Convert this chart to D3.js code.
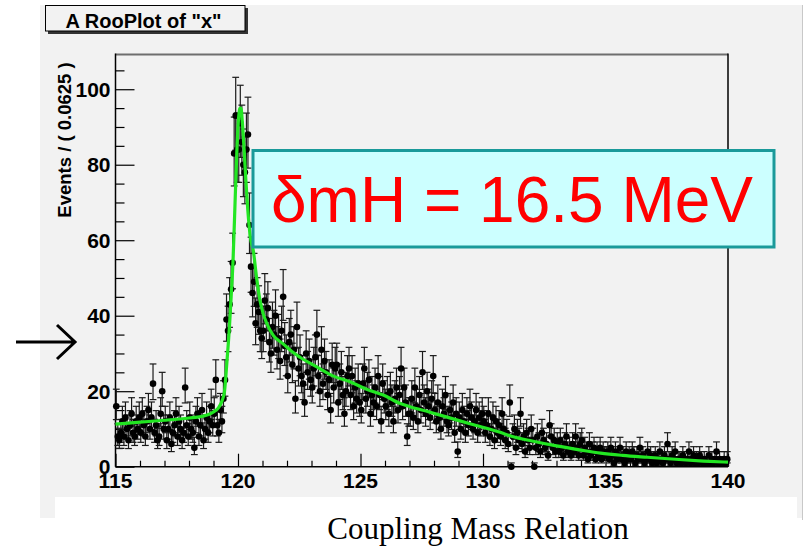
<!DOCTYPE html>
<html>
<head>
<meta charset="utf-8">
<script src="https://cdn.jsdelivr.net/npm/d3@7"></script>
<style>
html,body{margin:0;padding:0;background:#fff;}
svg{display:block;}
</style>
</head>
<body>
<svg id="chart" width="804" height="550"></svg>
<script>
// ---- data ----
const title = 'A RooPlot of "x"';
const yLabel = "Events / ( 0.0625 )";
const xLabel = "x";
const caption = "Coupling Mass Relation";
const annotation = "\u03b4mH = 16.5 MeV";
const xTicks = [115, 120, 125, 130, 135, 140];
const yTicks = [0, 20, 40, 60, 80, 100];
const binStart = 115;
const binWidth = 0.0625;
// counts per bin, one row per unit of x (16 bins each)
const counts = [
  16, 8, 7, 9, 12, 8, 13, 10, 7, 11, 14, 9, 8, 12, 10, 13,        // 115
  9, 14, 11, 8, 12, 15, 10, 13, 22, 9, 11, 7, 8, 14, 20, 10,      // 116
  12, 7, 10, 13, 6, 9, 11, 14, 8, 12, 10, 7, 9, 21, 11, 8,        // 117
  13, 10, 9, 5, 12, 14, 8, 11, 15, 7, 10, 13, 9, 12, 16, 11,      // 118
  14, 23, 11, 9, 15, 12, 18, 23, 39, 36, 43, 47, 54, 83, 93, 84,  // 119
  84, 91, 86, 80, 78, 84, 88, 64, 53, 46, 49, 38, 43, 41, 36, 34, // 120
  36, 44, 39, 42, 33, 30, 37, 35, 40, 31, 34, 28, 36, 45, 32, 29, // 121
  24, 33, 35, 27, 31, 18, 37, 26, 29, 24, 22, 17, 30, 25, 28, 23, // 122
  21, 26, 29, 35, 24, 20, 31, 22, 28, 25, 19, 23, 15, 27, 21, 26, // 123
  27, 17, 22, 25, 19, 14, 20, 24, 26, 19, 24, 16, 21, 18, 22, 17, // 124
  15, 22, 26, 18, 20, 23, 14, 19, 17, 21, 16, 24, 19, 12, 22, 18, // 125
  16, 19, 14, 20, 17, 12, 18, 21, 15, 19, 26, 16, 21, 17, 8, 14,  // 126
  14, 18, 13, 21, 16, 12, 19, 15, 25, 17, 14, 20, 16, 13, 18, 24, // 127
  15, 12, 17, 13, 10, 16, 14, 19, 12, 11, 15, 13, 17, 9, 14, 4,   // 128
  13, 10, 15, 12, 9, 14, 11, 16, 13, 10, 12, 15, 9, 13, 11, 14,   // 129
  12, 9, 11, 14, 8, 10, 13, 7, 12, 9, 11, 8, 14, 10, 7, 9,        // 130
  6, 17, 0, 8, 10, 5, 9, 7, 14, 6, 8, 4, 9, 7, 5, 10,             // 131
  7, 0, 5, 8, 6, 4, 9, 7, 5, 6, 3, 11, 8, 5, 7, 4,                // 132
  6, 4, 7, 5, 3, 6, 8, 4, 5, 3, 6, 4, 8, 5, 3, 6,                 // 133
  7, 3, 5, 4, 2, 6, 3, 4, 5, 2, 4, 3, 5, 2, 4, 3,                 // 134
  3, 4, 2, 5, 3, 1, 4, 2, 3, 5, 2, 3, 1, 4, 2, 3,                 // 135
  2, 4, 3, 1, 3, 2, 5, 2, 3, 1, 2, 4, 2, 3, 1, 2,                 // 136
  3, 1, 2, 4, 2, 1, 3, 2, 6, 2, 1, 3, 2, 4, 1, 2,                 // 137
  2, 1, 3, 2, 1, 2, 4, 1, 2, 3, 1, 2, 1, 3, 2, 1,                 // 138
  2, 1, 1, 3, 1, 2, 1, 2, 4, 1, 2, 1, 1, 2, 1, 2                  // 139
];
// fitted curve
const curveX = [115, 116, 117, 118, 118.5, 119, 119.2, 119.35, 119.45, 119.55, 119.65, 119.72, 119.8, 119.88, 119.95, 120.02, 120.08, 120.12, 120.18, 120.25, 120.32, 120.4, 120.5, 120.63, 120.76, 120.9, 121.03, 121.17, 121.44, 121.85, 122.2, 122.53, 123.2, 123.9, 124.57, 125.25, 125.93, 126.6, 127.02, 127.8, 128.5, 129.5, 130.7, 131.2, 132, 133, 134, 134.8, 135.7, 136.7, 138, 139, 140];
const curveY = [11.3, 11.8, 12.3, 12.9, 13.3, 14.5, 15.6, 17.5, 20, 28, 37, 45, 55, 70, 83, 92, 95, 95, 91, 84, 76, 68, 61, 57, 50, 44, 40.5, 38, 34.8, 32.5, 30.5, 29, 26.5, 24, 22.5, 20.5, 19, 16.8, 15.9, 14.5, 13.2, 11.3, 9.1, 8.0, 6.8, 5.5, 4.4, 3.6, 3.0, 2.5, 1.9, 1.5, 1.2];

// ---- layout ----
const svg = d3.select("#chart");
const frame = {left: 115.5, right: 728, top: 54.5, bottom: 466.7};
const x = d3.scaleLinear().domain([115, 140]).range([frame.left, frame.right]);
const y = d3.scaleLinear().domain([0, 109.2]).range([frame.bottom, frame.top]);
const bold = "'Liberation Sans', Arial, Helvetica, sans-serif";

// canvas
svg.append("rect").attr("x", 40).attr("y", 5).attr("width", 763).attr("height", 513).attr("fill", "#f2f2f2");
svg.append("line").attr("x1", 802.5).attr("x2", 802.5).attr("y1", 5).attr("y2", 520).attr("stroke", "#c8c8c8").attr("stroke-width", 1);

// title box
svg.append("rect").attr("x", 48).attr("y", 8).attr("width", 200).attr("height", 26).attr("fill", "#333");
svg.append("rect").attr("x", 45.5).attr("y", 5.5).attr("width", 199.5).attr("height", 25.5).attr("fill", "#f2f2f2").attr("stroke", "#000").attr("stroke-width", 1);
svg.append("text").attr("x", 143.5).attr("y", 27.5).attr("text-anchor", "middle")
  .attr("font-family", bold).attr("font-weight", "bold").attr("font-size", 20).attr("fill", "#000").text(title);

// frame
svg.append("line").attr("x1", frame.left).attr("x2", frame.right).attr("y1", frame.top).attr("y2", frame.top).attr("stroke", "#6e6e6e").attr("stroke-width", 2);
svg.append("line").attr("x1", frame.right).attr("x2", frame.right).attr("y1", frame.top - 1).attr("y2", frame.bottom).attr("stroke", "#000").attr("stroke-width", 1.5);

// axes
const yAxis = d3.axisLeft(y).tickValues(d3.range(0, 110, 5)).tickSize(0).tickFormat("");
const gy = svg.append("g").attr("transform", `translate(${frame.left},0)`).call(yAxis);
gy.select(".domain").remove();
gy.selectAll(".tick line").remove();
gy.selectAll(".tick").append("line")
  .attr("x1", 0).attr("x2", d => (d % 20 === 0 ? 19 : 9)).attr("stroke", "#000").attr("stroke-width", 1.2);
gy.append("line").attr("x1", 0).attr("x2", 0).attr("y1", frame.top - 1).attr("y2", frame.bottom).attr("stroke", "#000").attr("stroke-width", 1.5);
gy.selectAll(".ylab").data(yTicks).enter().append("text")
  .attr("x", -5).attr("y", d => y(d)).attr("dy", "0.36em").attr("text-anchor", "end")
  .attr("font-family", bold).attr("font-weight", "bold").attr("font-size", 21).attr("fill", "#000").text(d => d);

const xAxis = d3.axisBottom(x).tickValues(d3.range(115, 140.01, 1)).tickSize(0).tickFormat("");
const gx = svg.append("g").attr("transform", `translate(0,${frame.bottom})`).call(xAxis);
gx.select(".domain").remove();
gx.selectAll(".tick line").remove();
gx.selectAll(".tick").append("line")
  .attr("y1", 0).attr("y2", d => (d % 5 === 0 ? -13 : -6)).attr("stroke", "#000").attr("stroke-width", 1.2);
gx.append("line").attr("x1", frame.left).attr("x2", frame.right).attr("y1", 0).attr("y2", 0).attr("stroke", "#000").attr("stroke-width", 1.5);
gx.selectAll(".xlab").data(xTicks).enter().append("text")
  .attr("x", d => x(d)).attr("y", 21).attr("text-anchor", "middle")
  .attr("font-family", bold).attr("font-weight", "bold").attr("font-size", 21).attr("fill", "#000").text(d => d);
svg.append("text").attr("x", 722).attr("y", 510).attr("text-anchor", "middle")
  .attr("font-family", bold).attr("font-weight", "bold").attr("font-size", 21).text(xLabel);

// y label
svg.append("text").attr("transform", `translate(71,${(63 + 217) / 2}) rotate(-90)`)
  .attr("text-anchor", "middle").attr("font-family", bold).attr("font-weight", "bold").attr("font-size", 18.5).text(yLabel);

// data
const data = counts.map((n, i) => ({x: binStart + binWidth * (i + 0.5), n}));
const gd = svg.append("g");
const capW = 3.4;
data.forEach(d => {
  const lo = Math.max(0, d.n + 0.5 - Math.sqrt(d.n + 0.25));
  const hi = d.n + 0.5 + Math.sqrt(d.n + 0.25);
  const cx = x(d.x);
  gd.append("line").attr("x1", cx).attr("x2", cx).attr("y1", y(lo)).attr("y2", y(hi)).attr("stroke", "#1a1a1a").attr("stroke-width", 1.2);
  gd.append("line").attr("x1", cx - capW).attr("x2", cx + capW).attr("y1", y(hi)).attr("y2", y(hi)).attr("stroke", "#1a1a1a").attr("stroke-width", 1.2);
  gd.append("line").attr("x1", cx - capW).attr("x2", cx + capW).attr("y1", y(lo)).attr("y2", y(lo)).attr("stroke", "#1a1a1a").attr("stroke-width", 1.2);
});
gd.selectAll("circle").data(data).enter().append("circle")
  .attr("cx", d => x(d.x)).attr("cy", d => y(d.n)).attr("r", 3.3).attr("fill", "#000");

// curve
const line = d3.line().x(d => x(d[0])).y(d => y(d[1])).curve(d3.curveMonotoneX);
svg.append("path").datum(curveX.map((v, i) => [v, curveY[i]]))
  .attr("d", line).attr("fill", "none").attr("stroke", "#22e622").attr("stroke-width", 3.2);

// annotation box
svg.append("rect").attr("x", 253).attr("y", 150.5).attr("width", 521).attr("height", 96.5)
  .attr("fill", "#ccffff").attr("stroke", "#1a9a9a").attr("stroke-width", 3);
svg.append("text").attr("x", 512).attr("y", 221.5).attr("text-anchor", "middle")
  .attr("font-family", "'Liberation Sans', Arial, sans-serif").attr("font-size", 64).attr("fill", "#ff0000").text(annotation);

// caption strip
svg.append("rect").attr("x", 55).attr("y", 497).attr("width", 742).attr("height", 53).attr("fill", "#fff");
svg.append("text").attr("x", 478).attr("y", 539).attr("text-anchor", "middle")
  .attr("font-family", "'Liberation Serif', 'Times New Roman', serif").attr("font-size", 31).attr("fill", "#000").text(caption);

// arrow
svg.append("path").attr("d", "M16,342 H75 M57,325 L75,342 L57,359")
  .attr("fill", "none").attr("stroke", "#000").attr("stroke-width", 3);
</script>
</body>
</html>
